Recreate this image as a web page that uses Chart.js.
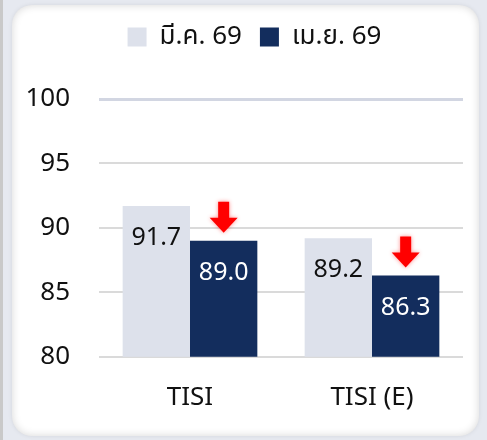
<!DOCTYPE html>
<html>
<head>
<meta charset="utf-8">
<script src="https://cdn.jsdelivr.net/npm/chart.js@4.4.1/dist/chart.umd.min.js"></script>
<style>
  html, body { margin: 0; padding: 0; width: 487px; height: 440px; overflow: hidden; background: #e6e9f0; font-family: "Noto Sans", sans-serif; }
  .strip { position: absolute; left: 0; top: 0; width: 3px; height: 440px; background: #c9c9c9; }
  .card {
    position: absolute; left: 12px; top: 5px; width: 467px; height: 431px;
    background: #fff; border-radius: 20px;
    box-shadow: inset 0 0 9px rgba(0, 0, 0, 0.16), 0 0 4px rgba(0, 0, 0, 0.08);
  }
  .wrap { position: absolute; left: 0; top: 0; width: 487px; height: 440px; }
</style>
</head>
<body>
<div class="strip"></div>
<div class="card"></div>
<div class="wrap"><canvas id="chart" width="487" height="440"></canvas></div>
<script>
/* ================= DATA ================= */
const categories = ["TISI", "TISI (E)"];
const seriesNames = ["มี.ค. 69", "เม.ย. 69"];
const marValues = [91.7, 89.2];
const aprValues = [89.0, 86.3];
const yTicks = [80, 85, 90, 95, 100];

const LIGHT = "#dde1eb";
const NAVY = "#132d5d";
const FONT = "'Noto Sans', 'Noto Sans Thai', 'Liberation Sans', sans-serif";

/* ================= LEGEND: extra space below, nudged right ================= */
const legendTweak = {
  id: "legendTweak",
  beforeInit(chart) {
    const legend = chart.legend;
    const origFit = legend.fit;
    const origDraw = legend.draw;
    legend.fit = function () {
      origFit.call(this);
      this.height += 39;
    };
    legend.draw = function () {
      this.ctx.save();
      this.ctx.translate(10, 0);
      origDraw.call(this);
      this.ctx.restore();
    };
  }
};

/* ================= VALUE LABELS + ARROWS ================= */
const barLabels = {
  id: "barLabels",
  afterDatasetsDraw(chart) {
    const ctx = chart.ctx;
    ctx.save();
    ctx.font = "25px " + FONT;
    ctx.textAlign = "center";
    ctx.textBaseline = "middle";
    chart.data.datasets.forEach((ds, di) => {
      const meta = chart.getDatasetMeta(di);
      meta.data.forEach((bar, i) => {
        ctx.fillStyle = di === 0 ? "#111" : "#fff";
        ctx.fillText(ds.data[i].toFixed(1), bar.x, bar.y + 32);
      });
    });

    // red down arrows above the newer month
    const meta = chart.getDatasetMeta(1);
    meta.data.forEach((bar, i) => {
      if (aprValues[i] >= marValues[i]) return;
      const tip = bar.y - 8;
      const top = tip - 31;
      const headTop = tip - 15;
      ctx.save();
      ctx.shadowColor = "rgba(255,0,0,0.45)";
      ctx.shadowBlur = 4;
      ctx.fillStyle = "#ff0000";
      ctx.beginPath();
      ctx.moveTo(bar.x - 5.5, top);
      ctx.lineTo(bar.x + 5.5, top);
      ctx.lineTo(bar.x + 5.5, headTop);
      ctx.lineTo(bar.x + 14, headTop);
      ctx.lineTo(bar.x, tip);
      ctx.lineTo(bar.x - 14, headTop);
      ctx.lineTo(bar.x - 5.5, headTop);
      ctx.closePath();
      ctx.fill();
      ctx.restore();
    });
    ctx.restore();
  }
};

/* ================= CHART ================= */
const ctx = document.getElementById("chart");
new Chart(ctx, {
  type: "bar",
  data: {
    labels: categories,
    datasets: [
      {
        label: seriesNames[0],
        data: marValues,
        backgroundColor: LIGHT,
        categoryPercentage: 0.74,
        barPercentage: 1
      },
      {
        label: seriesNames[1],
        data: aprValues,
        backgroundColor: NAVY,
        categoryPercentage: 0.74,
        barPercentage: 1
      }
    ]
  },
  options: {
    responsive: false,
    animation: false,
    layout: { padding: { left: 26, right: 24, top: 6, bottom: 10 } },
    plugins: {
      tooltip: { enabled: false },
      legend: {
        labels: {
          boxWidth: 19,
          boxHeight: 19,
          color: "#111",
          font: { family: FONT, size: 26 },
          padding: 18
        }
      }
    },
    scales: {
      x: {
        grid: { display: false },
        border: { display: false },
        ticks: { color: "#111", padding: 17, font: { family: FONT, size: 26 } }
      },
      y: {
        min: 80,
        max: 100,
        afterFit: scale => { scale.width = 73; },
        afterBuildTicks: scale => { scale.ticks = yTicks.map(v => ({ value: v })); },
        border: { display: false },
        grid: {
          drawTicks: false,
          color: c => (c.tick && c.tick.value === 100 ? "#d2d6e2" : "#dadada"),
          lineWidth: c => (c.tick && c.tick.value === 100 ? 3 : 2)
        },
        ticks: { color: "#111", padding: 29, font: { family: FONT, size: 26 } }
      }
    }
  },
  plugins: [barLabels, legendTweak]
});
</script>
</body>
</html>
